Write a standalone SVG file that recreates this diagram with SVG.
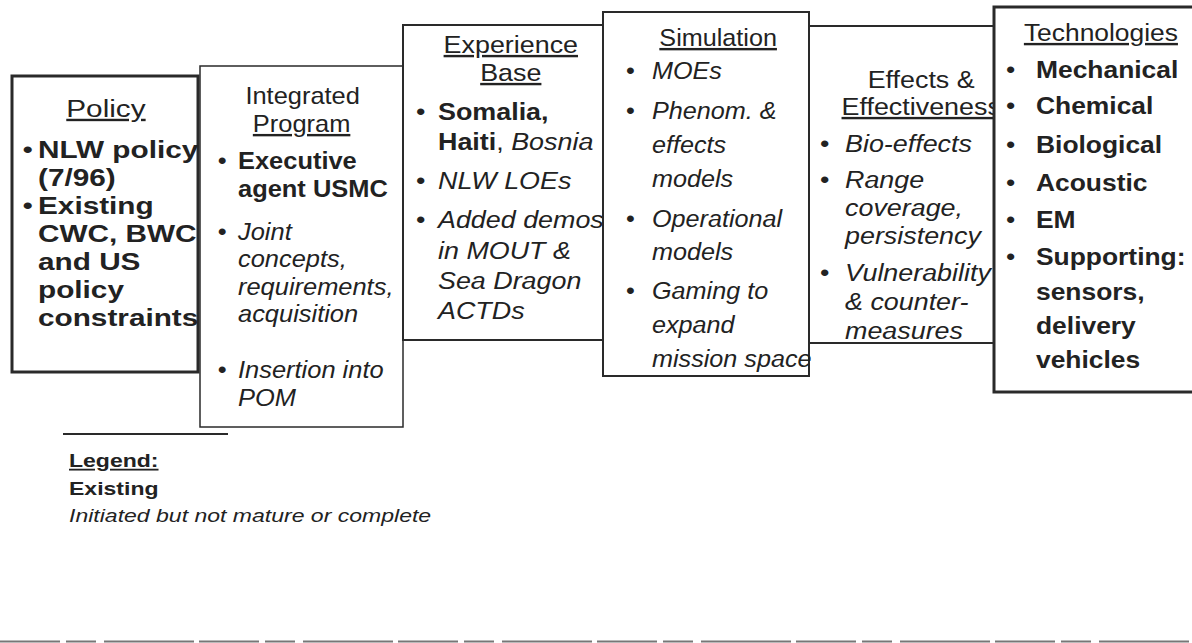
<svg xmlns="http://www.w3.org/2000/svg" width="1192" height="643" viewBox="0 0 1192 643">
<style>
.box{fill:#fff;stroke:#2a2a2a;stroke-width:2}
.thick{stroke-width:3}
.thin{stroke-width:1.5}
.t{font-family:"Liberation Sans",Arial,sans-serif;font-size:24px;fill:#222}
.lg{font-family:"Liberation Sans",Arial,sans-serif;font-size:18px;fill:#222}
.b{font-weight:bold}
.i{font-style:italic}
.u{text-decoration:underline}
.c{text-anchor:middle}
</style>
<rect width="1192" height="643" fill="#fff"/>
<g id="policy">
<rect class="box thick" x="12" y="76" width="186" height="296"/>
<g transform="translate(38,0) scale(1.24,1)">
<text class="t u c" x="54.8" y="117">Policy</text>
<text class="t" x="-12.5" y="158">•</text>
<text class="t b" x="0" y="158">NLW policy</text>
<text class="t b" x="0" y="186">(7/96)</text>
<text class="t" x="-12.5" y="214">•</text>
<text class="t b" x="0" y="214">Existing</text>
<text class="t b" x="0" y="242">CWC, BWC</text>
<text class="t b" x="0" y="270">and US</text>
<text class="t b" x="0" y="298">policy</text>
<text class="t b" x="0" y="326">constraints</text>
</g>
</g>
<g id="integrated">
<rect class="box thin" x="200" y="66" width="203" height="361"/>
<g transform="translate(238,0) scale(1.06,1)">
<text class="t c" x="61" y="104">Integrated</text>
<text class="t u c" x="60" y="132">Program</text>
<text class="t" x="-19" y="169">•</text>
<text class="t b" x="0" y="169">Executive</text>
<text class="t b" x="0" y="197">agent USMC</text>
<text class="t" x="-19" y="240">•</text>
<text class="t i" x="0" y="240">Joint</text>
<text class="t i" x="0" y="267">concepts,</text>
<text class="t i" x="0" y="295">requirements,</text>
<text class="t i" x="0" y="322">acquisition</text>
<text class="t" x="-19" y="378">•</text>
<text class="t i" x="0" y="378">Insertion into</text>
<text class="t i" x="0" y="406">POM</text>
</g>
</g>
<g id="experience">
<rect class="box" x="403" y="25" width="200" height="315"/>
<g transform="translate(438,0) scale(1.12,1)">
<text class="t u c" x="65" y="53">Experience</text>
<text class="t u c" x="65" y="81">Base</text>
<text class="t" x="-19.6" y="120">•</text>
<text class="t b" x="0" y="120">Somalia,</text>
<text class="t" x="0" y="150"><tspan class="b">Haiti</tspan>, <tspan class="i">Bosnia</tspan></text>
<text class="t" x="-19.6" y="189">•</text>
<text class="t i" x="0" y="189">NLW LOEs</text>
<text class="t" x="-19.6" y="228">•</text>
<text class="t i" x="0" y="228">Added demos</text>
<text class="t i" x="0" y="259">in MOUT &amp;</text>
<text class="t i" x="0" y="289">Sea Dragon</text>
<text class="t i" x="0" y="319">ACTDs</text>
</g>
</g>
<g id="simulation">
<rect class="box" x="603" y="12" width="206" height="364"/>
<g transform="translate(652,0) scale(1.05,1)">
<text class="t u c" x="63" y="46">Simulation</text>
<text class="t" x="-24.8" y="79">•</text>
<text class="t i" x="0" y="79">MOEs</text>
<text class="t" x="-24.8" y="119">•</text>
<text class="t i" x="0" y="119">Phenom. &amp;</text>
<text class="t i" x="0" y="153">effects</text>
<text class="t i" x="0" y="187">models</text>
<text class="t" x="-24.8" y="227">•</text>
<text class="t i" x="0" y="227">Operational</text>
<text class="t i" x="0" y="260">models</text>
<text class="t" x="-24.8" y="299">•</text>
<text class="t i" x="0" y="299">Gaming to</text>
<text class="t i" x="0" y="333">expand</text>
<text class="t i" x="0" y="367">mission space</text>
</g>
</g>
<g id="effects">
<rect class="box" x="809" y="26" width="185" height="317"/>
<g transform="translate(845,0) scale(1.12,1)">
<text class="t c" x="68" y="88">Effects &amp;</text>
<text class="t u c" x="68" y="115">Effectiveness</text>
<text class="t" x="-22.3" y="152">•</text>
<text class="t i" x="0" y="152">Bio-effects</text>
<text class="t" x="-22.3" y="188">•</text>
<text class="t i" x="0" y="188">Range</text>
<text class="t i" x="0" y="216">coverage,</text>
<text class="t i" x="0" y="244">persistency</text>
<text class="t" x="-22.3" y="281">•</text>
<text class="t i" x="0" y="281">Vulnerability</text>
<text class="t i" x="0" y="310">&amp; counter-</text>
<text class="t i" x="0" y="339">measures</text>
</g>
</g>
<g id="technologies">
<rect class="box thick" x="994" y="7" width="210" height="385"/>
<g transform="translate(1036,0) scale(1.1,1)">
<text class="t u c" x="59" y="41">Technologies</text>
<text class="t" x="-27.3" y="78">•</text>
<text class="t b" x="0" y="78">Mechanical</text>
<text class="t" x="-27.3" y="114">•</text>
<text class="t b" x="0" y="114">Chemical</text>
<text class="t" x="-27.3" y="153">•</text>
<text class="t b" x="0" y="153">Biological</text>
<text class="t" x="-27.3" y="191">•</text>
<text class="t b" x="0" y="191">Acoustic</text>
<text class="t" x="-27.3" y="228">•</text>
<text class="t b" x="0" y="228">EM</text>
<text class="t" x="-27.3" y="265">•</text>
<text class="t b" x="0" y="265">Supporting:</text>
<text class="t b" x="0" y="300">sensors,</text>
<text class="t b" x="0" y="334">delivery</text>
<text class="t b" x="0" y="368">vehicles</text>
</g>
</g>
<g id="legend">
<line x1="63" y1="434" x2="228" y2="434" stroke="#2a2a2a" stroke-width="2"/>
<g transform="translate(69,0) scale(1.28,1)">
<text class="lg b u" x="0" y="467">Legend:</text>
<text class="lg b" x="0" y="495">Existing</text>
<text class="lg i" x="0" y="522">Initiated but not mature or complete</text>
</g>
</g>
<g id="connectors"/>
<line x1="0" y1="641.5" x2="1192" y2="641.5" stroke="#777" stroke-width="2" stroke-dasharray="60 6 30 8 90 5"/>
</svg>
